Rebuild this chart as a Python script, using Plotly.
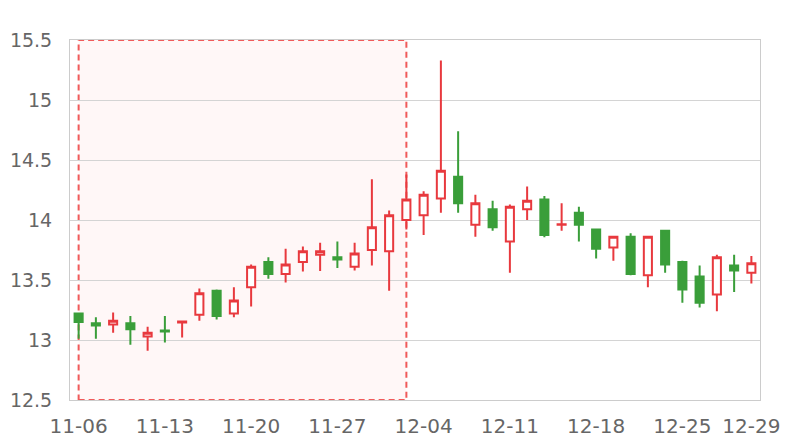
import plotly.graph_objects as go

dates = ["11-06","11-07","11-08","11-09","11-10",
         "11-13","11-14","11-15","11-16","11-17",
         "11-20","11-21","11-22","11-23","11-24",
         "11-27","11-28","11-29","11-30","12-01",
         "12-04","12-05","12-06","12-07","12-08",
         "12-11","12-12","12-13","12-14","12-15",
         "12-18","12-19","12-20","12-21","12-22",
         "12-25","12-26","12-27","12-28","12-29"]
open_ = [13.22,13.14,13.13,13.14,13.03,13.08,13.145,13.21,13.41,13.22,
         13.44,13.65,13.55,13.65,13.71,13.69,13.61,13.75,13.74,14.00,
         14.04,14.18,14.36,13.96,14.09,13.82,14.09,14.17,13.96,14.06,
         13.92,13.77,13.86,13.54,13.91,13.65,13.53,13.38,13.62,13.56]
high = [13.23,13.19,13.23,13.20,13.11,13.20,13.155,13.43,13.42,13.44,
        13.63,13.69,13.76,13.78,13.81,13.82,13.81,14.34,14.08,14.38,
        14.24,15.33,14.74,14.21,14.16,14.13,14.28,14.20,14.14,14.11,
        13.92,13.86,13.89,13.86,13.91,13.66,13.62,13.71,13.71,13.70]
low = [13.01,13.01,13.06,12.96,12.91,12.98,13.02,13.16,13.17,13.19,
       13.28,13.51,13.48,13.57,13.575,13.60,13.58,13.62,13.41,13.92,
       13.875,14.06,14.06,13.86,13.91,13.56,14.00,13.856,13.91,13.82,
       13.68,13.66,13.54,13.44,13.56,13.31,13.27,13.24,13.40,13.47]
close = [13.15,13.12,13.16,13.09,13.06,13.07,13.155,13.39,13.20,13.33,
         13.61,13.55,13.63,13.74,13.74,13.67,13.72,13.94,14.04,14.17,
         14.21,14.41,14.14,14.14,13.94,14.11,14.16,13.875,13.965,13.96,
         13.76,13.86,13.55,13.86,13.63,13.42,13.31,13.69,13.58,13.64]

tick_vals = ["11-06","11-13","11-20","11-27","12-04","12-11","12-18","12-25","12-29"]
y_ticks = [12.5, 13, 13.5, 14, 14.5, 15, 15.5]
y_tick_text = ["12.5", "13", "13.5", "14", "14.5", "15", "15.5"]
shade_start, shade_end = "11-06", "12-01"

RED = "#e8393e"
GREEN = "#3a9e3a"

fig = go.Figure(go.Candlestick(
    x=dates, open=open_, high=high, low=low, close=close,
    increasing=dict(line=dict(color=RED, width=2), fillcolor="#ffffff"),
    decreasing=dict(line=dict(color=GREEN, width=2), fillcolor=GREEN),
    whiskerwidth=0,
    showlegend=False,
    hoverinfo="x+y",
))

fig.add_shape(
    type="rect", xref="x", yref="paper",
    x0=shade_start, x1=shade_end, y0=0, y1=1,
    fillcolor="rgba(255,200,200,0.15)",
    line=dict(color="#f05a5a", width=2, dash="6px,4px"),
    layer="between",
)

font_family = "DejaVu Sans, sans-serif"
# the page body has an 8px default margin; figure is sized to fit the window
fig.update_layout(
    width=792, height=432,
    margin=dict(l=62, r=40, t=32, b=40, autoexpand=False),
    paper_bgcolor="white", plot_bgcolor="white",
    boxgap=0.33,
    font=dict(family=font_family, size=20, color="#666666"),
    xaxis=dict(
        type="category", automargin=False,
        categoryorder="array", categoryarray=dates,
        tickmode="array", tickvals=tick_vals, ticktext=tick_vals,
        rangeslider=dict(visible=False),
        showgrid=False, showline=True, linecolor="#cccccc", linewidth=1,
        mirror=True, ticks="", ticklabelstandoff=8,
        tickfont=dict(family=font_family, size=20, color="#666666"),
    ),
    yaxis=dict(
        range=[12.5, 15.5], automargin=False,
        tickmode="array", tickvals=y_ticks, ticktext=y_tick_text,
        showgrid=True, gridcolor="#d4d4d4", gridwidth=1,
        showline=True, linecolor="#cccccc", linewidth=1, mirror=True,
        zeroline=False, ticks="", ticklabelstandoff=13,
        tickfont=dict(family=font_family, size=19, color="#666666"),
    ),
)

fig.write_html("out.html")
